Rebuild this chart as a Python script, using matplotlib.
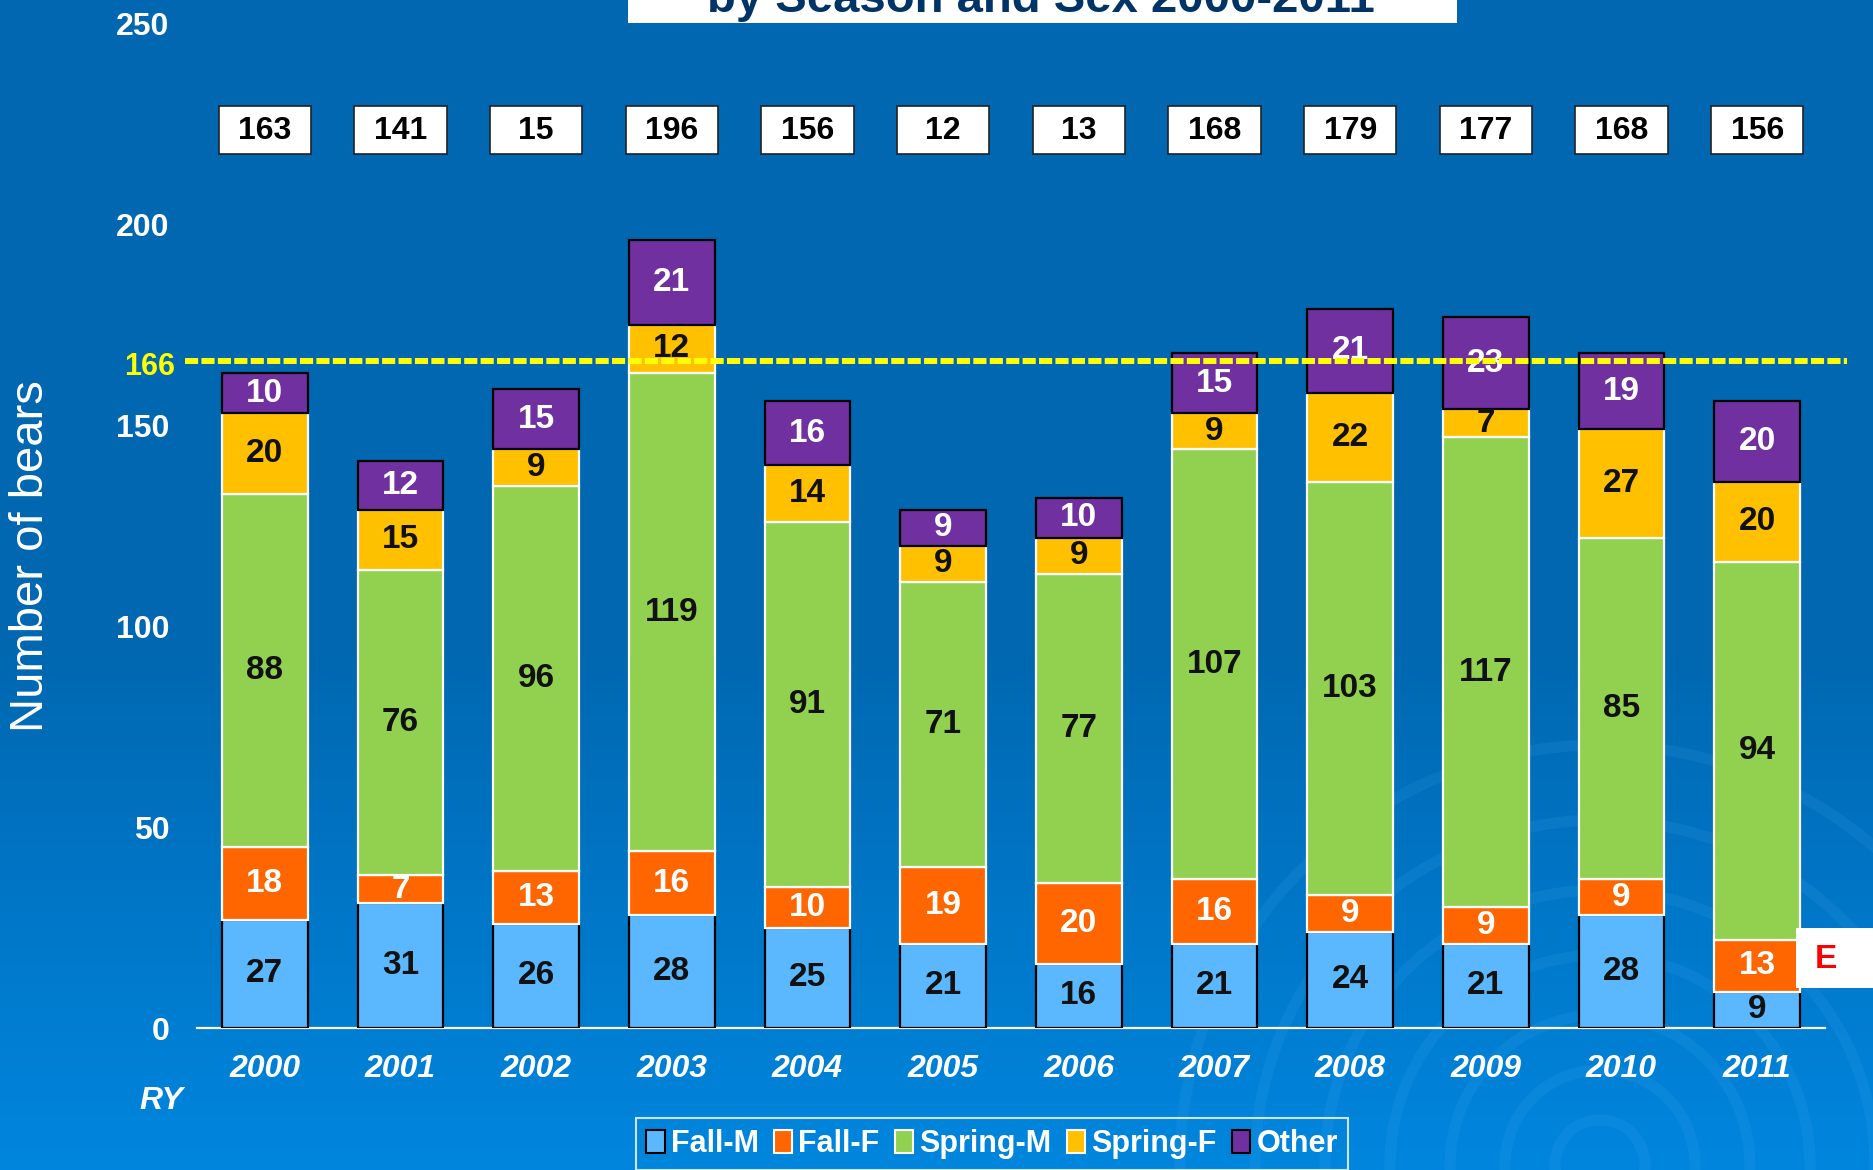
import matplotlib.pyplot as plt
from matplotlib.patches import Patch, Rectangle, Circle
import numpy as np

plt.rcParams['font.family'] = ['Liberation Sans', 'DejaVu Sans']

years = ['2000', '2001', '2002', '2003', '2004', '2005',
         '2006', '2007', '2008', '2009', '2010', '2011']
fall_m = [27, 31, 26, 28, 25, 21, 16, 21, 24, 21, 28, 9]
fall_f = [18, 7, 13, 16, 10, 19, 20, 16, 9, 9, 9, 13]
spring_m = [88, 76, 96, 119, 91, 71, 77, 107, 103, 117, 85, 94]
spring_f = [20, 15, 9, 12, 14, 9, 9, 9, 22, 7, 27, 20]
other = [10, 12, 15, 21, 16, 9, 10, 15, 21, 23, 19, 20]
# totals as printed in the boxes above the bars
total_labels = ['163', '141', '15', '196', '156', '12',
                '13', '168', '179', '177', '168', '156']
mean_line = 166

series = [
    ('Fall-M', fall_m, '#5BB8FF', 'black', '#111111'),
    ('Fall-F', fall_f, '#FF6600', 'white', 'white'),
    ('Spring-M', spring_m, '#92D050', 'white', '#111111'),
    ('Spring-F', spring_f, '#FFC000', 'white', '#111111'),
    ('Other', other, '#7030A0', 'black', 'white'),
]

W, H = 1874, 1170
fig = plt.figure(figsize=(W / 100, H / 100), dpi=100)


def fx(px):
    return px / W


def fy(py):
    return 1 - py / H


# background gradient + faint ripples
bg = fig.add_axes([0, 0, 1, 1], zorder=-10)
t = np.linspace(0, 1, 300)
top = np.array([0, 103, 176]) / 255
bot = np.array([0, 134, 222]) / 255
w = np.clip((t - 0.55) / 0.45, 0, 1)[:, None]
grad = (top * (1 - w) + bot * w)[:, None, :]
bg.imshow(grad, aspect='auto', extent=[0, W, H, 0])
for r in [45, 95, 150, 210, 275, 345, 420]:
    bg.add_patch(Circle((1600, 1165), r, fill=False, edgecolor='#5cbcff',
                        lw=8, alpha=0.10))
bg.set_xlim(0, W)
bg.set_ylim(H, 0)
bg.axis('off')

ax = fig.add_axes([fx(197), fy(1028), fx(1825 - 197), (1028 - 23.5) / H])
ax.set_facecolor('none')

x = np.arange(len(years))
bottom = np.zeros(len(years))
handles = []
for name, vals, color, edge, tcol in series:
    vals = np.array(vals, dtype=float)
    ax.bar(x, vals, 0.63, bottom=bottom, color=color, edgecolor=edge,
           linewidth=1.6, zorder=3)
    for xi, b, v in zip(x, bottom, vals):
        ax.text(xi, b + v / 2, f'{int(v)}', ha='center', va='center',
                fontsize=24, fontweight='bold', color=tcol, zorder=4)
    bottom += vals
    handles.append(Patch(facecolor=color, edgecolor=edge, linewidth=1.5, label=name))

# total boxes
for xi, lab in zip(x, total_labels):
    ax.add_patch(Rectangle((xi - 0.34, 217.4), 0.68, 12, facecolor='white',
                           edgecolor='#222222', linewidth=1.2, zorder=5))
    ax.text(xi, 223.2, lab, ha='center', va='center', fontsize=23,
            fontweight='bold', color='black', zorder=6)

# average line
ax.plot([-0.588, 11.66], [mean_line, mean_line], color='#FFFF00', lw=4.3,
        dashes=(2.2, 0.55), solid_capstyle='butt', dash_capstyle='butt',
        clip_on=False, zorder=6)
fig.text(fx(175), fy(367), str(mean_line), ha='right', va='center',
         fontsize=22, fontweight='bold', color='#FFFF00')

ax.set_xlim(-0.5, 11.5)
ax.set_ylim(0, 250)
ax.set_yticks([0, 50, 100, 150, 200, 250])
ax.set_xticks(x)
ax.set_xticklabels(years, fontsize=23, fontweight='bold', fontstyle='italic',
                   color='white')
for lab in ax.get_yticklabels():
    lab.set_fontsize(23)
    lab.set_fontweight('bold')
    lab.set_color('white')
ax.tick_params(axis='y', length=0, pad=20)
ax.tick_params(axis='x', length=0, pad=19)
for s in ['left', 'right', 'top']:
    ax.spines[s].set_visible(False)
ax.spines['bottom'].set_color('white')
ax.spines['bottom'].set_linewidth(1.6)

fig.text(fx(31), fy(556), 'Number of bears', rotation=90, ha='center',
         va='center', fontsize=34, color='white')
fig.text(fx(161), fy(1101), 'RY', ha='center', va='center', fontsize=23,
         fontweight='bold', fontstyle='italic', color='white')

# title box (cut off at the top)
fig.patches.append(Rectangle((fx(628), fy(23)), fx(1457 - 628), 23 / H + 0.01,
                             transform=fig.transFigure, facecolor='white',
                             edgecolor='none', zorder=1))
fig.text(fx(1041), fy(12), 'by Season and Sex 2000-2011', ha='center',
         va='baseline', fontsize=34, fontweight='bold', color='#003366',
         zorder=2)

# "E" box
fig.patches.append(Rectangle((fx(1796), fy(988)), fx(90), 60 / H,
                             transform=fig.transFigure, facecolor='white',
                             edgecolor='none', zorder=10))
fig.text(fx(1826), fy(960), 'E', ha='center', va='center', fontsize=24,
         fontweight='bold', color='#FF0000', zorder=11)

leg = fig.legend(handles=handles, loc='center',
                 bbox_to_anchor=(fx(992), fy(1144)), ncol=5, frameon=True,
                 fancybox=False, edgecolor='white', facecolor='none',
                 prop={'size': 22, 'weight': 'bold'}, labelcolor='white',
                 handlelength=0.6, handleheight=0.8, handletextpad=0.2,
                 columnspacing=0.5, borderpad=0.35)
leg.get_frame().set_linewidth(1.5)

fig.savefig('out.png', dpi=100)
